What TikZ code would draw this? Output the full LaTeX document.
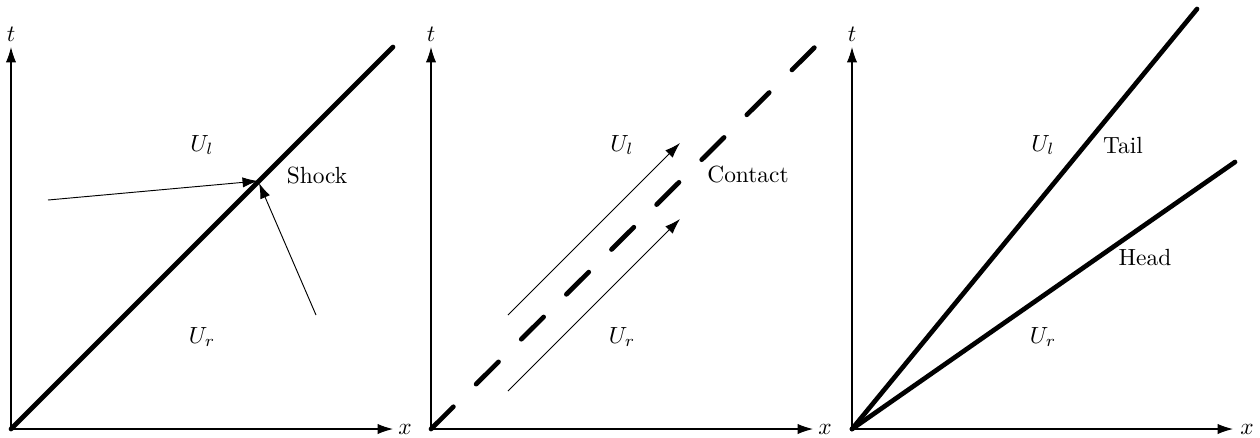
\documentclass[tikz,border=0pt]{standalone}
\usetikzlibrary{arrows.meta}
\begin{document}
\begin{tikzpicture}[x=0.4274pt,y=-0.4274pt,
  axis/.style={line width=0.45pt,-{Latex[length=6.6pt,width=4.4pt]}},
  thinarrow/.style={line width=0.4pt,-{Latex[length=6.6pt,width=4.4pt]}},
  wave/.style={line width=2pt,line cap=round},
  contactline/.style={line width=2pt,line cap=round,dash pattern=on 13.5pt off 13.7pt},
  lbl/.style={inner sep=0pt}]
\useasboundingbox (0,0) rectangle (1260,437);
% ---------- Panel 1: shock
\coordinate (o1) at (11,429);
\coordinate (t1) at (11,47);
\coordinate (x1) at (393,429);
\coordinate (s1) at (393,47);
\draw[axis] (o1) -- (t1);
\draw[axis] (o1) -- (x1);
\node[lbl] (tl1) at (11,34) {$t$};
\node[lbl] (xl1) at (405,429) {$x$};
\draw[wave] (o1) -- (s1);
\coordinate (p1) at (258,181);
\coordinate (a1) at (48,200);
\coordinate (b1) at (316,315);
\draw[thinarrow] (a1) -- (p1);
\draw[thinarrow] (b1) -- (259,183);
\node[lbl] (ul1) at (202,145) {$U_l$};
\node[lbl] (ur1) at (202,337) {$U_r$};
\node[lbl] (sh) at (317,175) {Shock};
% ---------- Panel 2: contact
\coordinate (o2) at (431,429);
\coordinate (t2) at (431,47);
\coordinate (x2) at (813,429);
\coordinate (s2) at (815,47);
\draw[axis] (o2) -- (t2);
\draw[axis] (o2) -- (x2);
\node[lbl] (tl2) at (431,34) {$t$};
\node[lbl] (xl2) at (825,429) {$x$};
\draw[contactline] (o2) -- (s2);
\coordinate (a2) at (508,315);
\coordinate (a2e) at (680,143);
\coordinate (b2) at (508,391);
\coordinate (b2e) at (680,219);
\draw[thinarrow] (a2) -- (a2e);
\draw[thinarrow] (b2) -- (b2e);
\node[lbl] (ul2) at (622,145) {$U_l$};
\node[lbl] (ur2) at (622,337) {$U_r$};
\node[lbl] (ct) at (748,174) {Contact};
% ---------- Panel 3: rarefaction
\coordinate (o3) at (852,429);
\coordinate (t3) at (852,47);
\coordinate (x3) at (1233,429);
\coordinate (tail) at (1197,9);
\coordinate (head) at (1235,162);
\draw[axis] (o3) -- (t3);
\draw[axis] (o3) -- (x3);
\node[lbl] (tl3) at (852,34) {$t$};
\node[lbl] (xl3) at (1247,429) {$x$};
\draw[wave] (o3) -- (tail);
\draw[wave] (o3) -- (head);
\node[lbl] (ul3) at (1043,145) {$U_l$};
\node[lbl] (ur3) at (1043,337) {$U_r$};
\node[lbl] (tl) at (1123,145) {Tail};
\node[lbl] (hd) at (1145,257) {Head};
\end{tikzpicture}
\end{document}
